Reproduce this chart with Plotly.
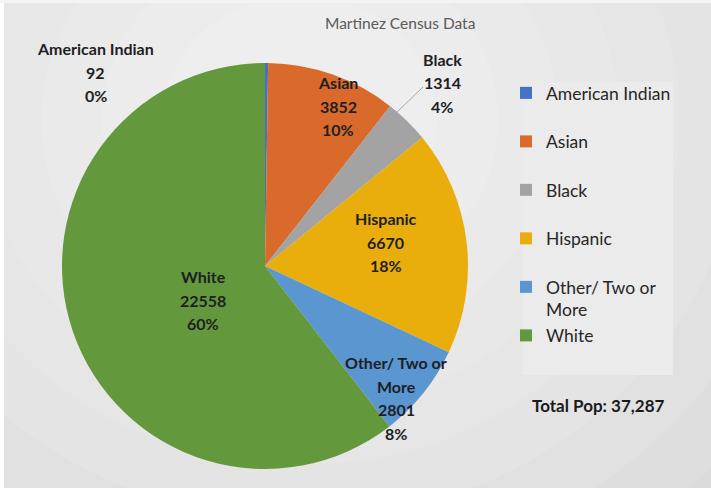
import plotly.graph_objects as go

# ---- data ----
categories = ["American Indian", "Asian", "Black", "Hispanic", "Other/ Two or<br>More", "White"]
population = [92, 3852, 1314, 6670, 2801, 22558]
percent_labels = ["0%", "10%", "4%", "18%", "8%", "60%"]
colors = ["#4472C4", "#DA6A2B", "#A3A3A3", "#E9AE0B", "#5A96D0", "#63993C"]
title_text = "Martinez Census Data"
total_text = "Total Pop: 37,287"

W, H = 711, 493
def px(x):
    return x / W
def py(y):
    return 1 - y / H

# label centres (pixels) for the data labels
label_pos = [(96, 72), (338, 106), (442, 83), (386, 242), (396, 398), (203, 300)]
line_gap = 23.5

legend_names = [c if "<br>" in c else c + "<br> " for c in categories]

cx, cy, r = 265, 266, 203

fig = go.Figure()
fig.add_trace(go.Pie(
    labels=legend_names,
    values=population,
    textinfo="none",
    sort=False,
    direction="clockwise",
    rotation=0,
    marker=dict(colors=colors, line=dict(width=0)),
    domain=dict(x=[px(cx - r), px(cx + r)], y=[py(cy + r), py(cy - r)]),
    hoverinfo="label+value+percent",
))

shapes = []
shapes.append(dict(type="rect", xref="paper", yref="paper", x0=px(4), x1=1, y0=py(488), y1=py(3),
                   fillcolor="#D3D3D3", line=dict(width=0), layer="below"))
gx, gy = 300, 120
for i in range(10):
    rr = 620 - i * 55
    shapes.append(dict(type="circle", xref="paper", yref="paper",
                       x0=px(gx - rr * 1.1), x1=px(gx + rr * 1.1), y0=py(gy + rr), y1=py(gy - rr),
                       fillcolor="rgba(255,255,255,0.1)", line=dict(width=0), layer="below"))
shapes.append(dict(type="rect", xref="paper", yref="paper", x0=0, x1=px(4), y0=0, y1=1,
                   fillcolor="white", line=dict(width=0), layer="below"))
shapes.append(dict(type="rect", xref="paper", yref="paper", x0=0, x1=1, y0=0, y1=py(488),
                   fillcolor="white", line=dict(width=0), layer="below"))
shapes.append(dict(type="rect", xref="paper", yref="paper", x0=0, x1=1, y0=py(3), y1=1,
                   fillcolor="#F4F4F4", line=dict(width=0), layer="below"))
# legend panel
shapes.append(dict(type="rect", xref="paper", yref="paper", x0=px(523), x1=px(673), y0=py(375), y1=py(82),
                   fillcolor="#EBEBEB", line=dict(width=0), layer="below"))
# leader line for the Black label
shapes.append(dict(type="line", xref="paper", yref="paper", x0=px(397), y0=py(112), x1=px(423), y1=py(87),
                   line=dict(color="#A6A6A6", width=1)))

label_font = dict(family="Lato", size=16, color="#1E1E24", weight="bold")
annotations = [
    dict(text=title_text, x=px(400), y=py(23), xref="paper", yref="paper", showarrow=False,
         xanchor="center", yanchor="middle",
         font=dict(family="Lato", size=15.5, color="#595959")),
    dict(text=total_text, x=px(598), y=py(405), xref="paper", yref="paper", showarrow=False,
         xanchor="center", yanchor="middle",
         font=dict(family="Lato", size=17, color="#1A1A1A", weight="bold")),
]
for cat, val, pct, (lx, ly) in zip(categories, population, percent_labels, label_pos):
    lines = cat.split("<br>") + [str(val), pct]
    n = len(lines)
    for k, ln in enumerate(lines):
        yy = ly + (k - (n - 1) / 2) * line_gap
        annotations.append(dict(text=ln, x=px(lx), y=py(yy), xref="paper", yref="paper",
                                showarrow=False, xanchor="center", yanchor="middle", font=label_font))

fig.update_layout(
    width=W, height=H,
    margin=dict(l=0, r=0, t=0, b=0),
    paper_bgcolor="white",
    plot_bgcolor="rgba(0,0,0,0)",
    shapes=shapes,
    annotations=annotations,
    showlegend=True,
    legend=dict(x=px(506), y=py(75), xanchor="left", yanchor="top",
                bgcolor="rgba(0,0,0,0)", valign="top",
                font=dict(family="Lato", size=17.5, color="#262626"),
                itemwidth=30),
)

fig.write_html("out.html", config={"displayModeBar": False},
               post_script="document.body.style.margin='0';")
